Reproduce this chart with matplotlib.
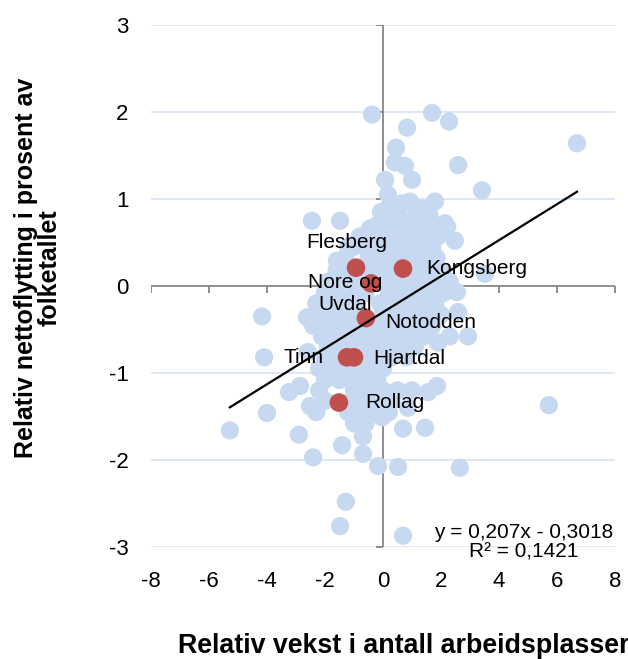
import numpy as np
import matplotlib
matplotlib.use('Agg')
import matplotlib.pyplot as plt
from matplotlib.markers import TICKDOWN, TICKLEFT

plt.rcParams['font.family'] = ['Liberation Sans', 'DejaVu Sans']

# kommuner i Norge (lyseblå), lest av bildet
blue_pts = [
    # spredte punkter
    (-0.38, 1.97), (1.69, 1.99), (2.28, 1.89), (0.83, 1.82), (0.45, 1.59),
    (0.41, 1.42), (0.76, 1.38), (2.59, 1.39), (0.07, 1.22), (1.00, 1.22),
    (3.41, 1.10), (6.69, 1.64), (0.17, 1.05), (-2.45, 0.75), (-1.48, 0.75),
    (-0.07, 0.85), (0.93, 0.97), (1.79, 0.97), (1.34, 0.89), (-0.45, 0.66),
    (2.14, 0.72), (2.21, 0.68), (2.48, 0.52), (3.52, 0.14), (2.55, -0.07),
    (2.59, -0.30), (2.93, -0.58), (1.90, -0.65), (1.86, -1.15), (1.55, -1.22),
    (0.86, -1.40), (-0.03, -1.51), (-4.17, -0.35), (-4.10, -0.82), (-3.24, -1.22),
    (-2.86, -1.15), (-4.00, -1.46), (-5.28, -1.66), (-2.90, -1.71), (-2.41, -1.97),
    (-2.62, -0.36), (-2.59, -0.76), (-2.52, -1.38), (-1.41, -1.83), (-0.69, -1.73),
    (-0.69, -1.93), (-0.17, -2.07), (0.52, -2.08), (2.65, -2.09), (0.69, -1.64),
    (1.45, -1.63), (-1.28, -2.48), (-1.48, -2.76), (0.69, -2.87), (5.72, -1.37),
    (-1.59, 0.29), (-1.21, 0.45),
    # tett klynge
    (0.30, 0.95), (0.65, 0.95),
    (0.20, 0.82), (0.55, 0.82), (1.15, 0.82), (1.60, 0.82),
    (-0.20, 0.70), (0.30, 0.70), (0.75, 0.70), (1.20, 0.70), (1.75, 0.70),
    (-0.80, 0.57), (-0.30, 0.57), (0.10, 0.57), (0.55, 0.57), (1.00, 0.57), (1.45, 0.57), (1.90, 0.57),
    (-1.00, 0.45), (-0.60, 0.45), (-0.10, 0.45), (0.30, 0.45), (0.80, 0.45), (1.20, 0.45), (1.70, 0.45),
    (-1.30, 0.32), (-0.50, 0.32), (0.00, 0.32), (0.35, 0.32), (0.95, 0.32), (1.40, 0.32), (1.85, 0.32),
    (-1.60, 0.18), (-1.20, 0.18), (-0.40, 0.18), (0.10, 0.18), (0.35, 0.18), (1.10, 0.18), (1.50, 0.18), (2.00, 0.18),
    (-1.90, 0.05), (-1.50, 0.05), (-0.90, 0.05), (0.00, 0.05), (0.40, 0.05), (0.90, 0.05), (1.30, 0.05), (1.80, 0.05), (2.30, 0.05),
    (-2.00, -0.08), (-1.60, -0.08), (-1.00, -0.08), (-0.60, -0.08), (0.20, -0.08), (0.60, -0.08), (1.10, -0.08), (1.60, -0.08), (2.10, -0.08),
    (-2.30, -0.20), (-1.80, -0.20), (-1.30, -0.20), (-0.90, -0.20), (-0.10, -0.20), (0.40, -0.20), (0.90, -0.20), (1.30, -0.20), (1.80, -0.20),
    (-2.10, -0.33), (-1.60, -0.33), (-1.10, -0.33), (0.00, -0.33), (0.50, -0.33), (1.00, -0.33), (1.50, -0.33), (2.00, -0.33),
    (-2.40, -0.46), (-1.90, -0.46), (-1.40, -0.46), (-1.00, -0.46), (-0.30, -0.46), (0.20, -0.46), (0.70, -0.46), (1.20, -0.46), (1.70, -0.46),
    (-2.10, -0.58), (-1.60, -0.58), (-1.20, -0.58), (-0.70, -0.58), (-0.10, -0.58), (0.40, -0.58), (0.90, -0.58), (1.40, -0.58), (2.30, -0.58),
    (-1.90, -0.70), (-1.40, -0.70), (-0.90, -0.70), (-0.40, -0.70), (0.10, -0.70), (0.60, -0.70), (1.10, -0.70),
    (-2.00, -0.82), (-1.60, -0.82), (-0.60, -0.82), (-0.20, -0.82), (0.30, -0.82), (0.80, -0.82),
    (-2.20, -0.95), (-1.80, -0.95), (-1.30, -0.95), (-0.80, -0.95), (-0.40, -0.95), (0.00, -0.95),
    (-2.00, -1.08), (-1.50, -1.08), (-1.10, -1.08), (-0.60, -1.08), (-0.20, -1.08),
    (-2.20, -1.20), (-1.00, -1.20), (-0.50, -1.20), (0.00, -1.20), (0.50, -1.20), (1.00, -1.20),
    (-2.00, -1.32), (-1.10, -1.32), (-0.70, -1.32), (-0.20, -1.32), (0.30, -1.32),
    (-2.30, -1.45), (-1.20, -1.45), (-0.80, -1.45), (-0.40, -1.45), (0.20, -1.45),
    (-1.00, -1.58), (-0.60, -1.58),
]
blue_x = [p[0] for p in blue_pts]
blue_y = [p[1] for p in blue_pts]

# Kongsberg-regionen (røde)
red_names = ['Flesberg', 'Kongsberg', 'Nore og\nUvdal', 'Notodden', 'Tinn', 'Hjartdal', 'Rollag']
red_x = [-0.93, 0.69, -0.41, -0.59, -1.24, -1.00, -1.52]
red_y = [0.21, 0.20, 0.03, -0.37, -0.82, -0.82, -1.34]

# trendlinje
slope = 0.207
intercept = -0.3018
x_min, x_max = min(blue_x), max(blue_x)

xticks = [-8, -6, -4, -2, 0, 2, 4, 6, 8]
yticks = [-3, -2, -1, 0, 1, 2, 3]

fig = plt.figure(figsize=(6.28, 6.59), dpi=100)
ax = fig.add_axes([0.2404, 0.170, 0.7389, 0.7921])
ax.set_xlim(-8, 8)
ax.set_ylim(-3, 3)

grid_c = '#D9E3F1'
axis_c = '#868686'
for yv in yticks:
    if yv != 0:
        ax.axhline(yv, color=grid_c, lw=1.2, zorder=0)
ax.plot([-8, 8], [0, 0], color=axis_c, lw=1.3, zorder=1)
ax.plot([0, 0], [-3, 3], color=axis_c, lw=1.3, zorder=1)
ax.plot(xticks, [0] * len(xticks), ls='none', marker=TICKDOWN, ms=5, mew=1.3, color=axis_c, zorder=1)
ax.plot([0] * len(yticks), yticks, ls='none', marker=TICKLEFT, ms=5, mew=1.3, color=axis_c, zorder=1)

ax.scatter(blue_x, blue_y, s=172, color='#C6D9F0', edgecolors='none', zorder=2)
ax.scatter(red_x, red_y, s=180, color='#C0504D', edgecolors='none', zorder=3)

lx = np.array([x_min, x_max])
ax.plot(lx, slope * lx + intercept, color='black', lw=1.6, zorder=4)

offsets = [(-36, 18), (17, 0), (-19, -7), (14, -3), (-17, 0), (14, -1), (19, 0)]
aligns = ['left', 'left', 'center', 'left', 'right', 'left', 'left']
for name, xx, yy, off, ha in zip(red_names, red_x, red_y, offsets, aligns):
    ax.annotate(name, (xx, yy), xytext=off, textcoords='offset points',
                ha=ha, va='center', fontsize=15, zorder=5, multialignment='center')

ax.text(4.86, -2.95, 'y = 0,207x - 0,3018\nR² = 0,1421', ha='center', va='center',
        fontsize=15, linespacing=1.05, multialignment='center', zorder=5)

for s in ax.spines.values():
    s.set_visible(False)
ax.set_xticks(xticks)
ax.set_yticks(yticks)
ax.set_xticklabels([str(v) for v in xticks])
ax.set_yticklabels([str(v) for v in yticks])
ax.tick_params(axis='both', length=0, labelsize=16)
ax.tick_params(axis='x', pad=17)
ax.tick_params(axis='y', pad=16)

fig.text(38 / 628, 1 - 268 / 659, 'Relativ nettoflytting i prosent av\nfolketallet',
         rotation=90, ha='center', va='center', fontsize=18, fontweight='bold',
         multialignment='center', linespacing=1.0)
fig.text(178 / 628, 1 - 646 / 659, 'Relativ vekst i antall arbeidsplasser',
         ha='left', va='center', fontsize=19.3, fontweight='bold')

fig.savefig('out.png', dpi=100)
